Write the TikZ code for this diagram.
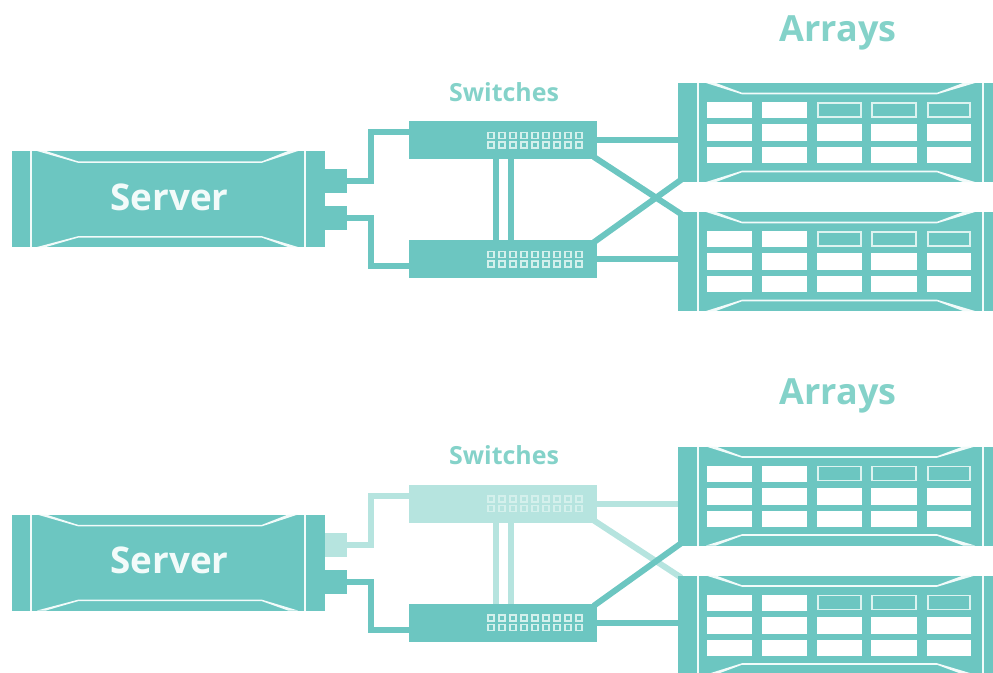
\documentclass[tikz,border=0pt]{standalone}
\usepackage{fontspec}
\setmainfont{Open Sans}
\usetikzlibrary{calc,backgrounds}
\definecolor{tealmain}{HTML}{6CC6C1}
\definecolor{teallight}{HTML}{B6E4DF}
\definecolor{tealtext}{HTML}{84D2C9}
\definecolor{notch}{HTML}{F2FBFA}
\definecolor{portline}{HTML}{D4F0EC}
\definecolor{celledge}{HTML}{DDF3F0}
\tikzset{
  sz/.style 2 args={minimum width=#1*0.75pt,minimum height=#2*0.75pt},
  boxnode/.style={inner sep=0,outer sep=0,anchor=north west,draw=none,fill=#1},
  wire/.style={draw=#1,line width=4.5pt,line join=miter,shorten <=-3pt,shorten >=-3pt},
  hairline/.style={draw=notch,line width=1pt},
  notchfill/.style={fill=notch,draw=none},
  cellfull/.style={fill=white,draw=none},
  celloutline/.style={fill=tealmain,draw=celledge,line width=0.9pt},
  portsq/.style={draw=portline,line width=0.8pt,fill=none},
  titlebig/.style={font=\bfseries\fontsize{27}{30}\selectfont,text=tealtext,inner sep=0},
  titlesmall/.style={font=\bfseries\fontsize{18.7}{20}\selectfont,text=tealtext,inner sep=0},
  servertext/.style={font=\bfseries\fontsize{27.6}{32}\selectfont,text=notch,inner sep=0},
}
% rack: name, top y
\newcommand{\rackunit}[2]{%
  \node[boxnode=tealmain,sz={315}{99}] (#1) at (678,#2) {};
  \begin{scope}[shift={(0,#2)}]
    \draw[hairline] (698,0) -- (698,99);
    \draw[hairline] (983,0) -- (983,99);
    \fill[notchfill] (706,0) -- (716,0) -- (742,9.7) -- (937,9.7) -- (963,0) -- (975,0) -- (937,11.3) -- (742,11.3) -- cycle;
    \fill[notchfill] (706,99) -- (716,99) -- (742,89.3) -- (937,89.3) -- (963,99) -- (975,99) -- (937,87.7) -- (742,87.7) -- cycle;
    \foreach \xa/\xb in {707/752,762/807,817/862,871/917,927/971}{
      \fill[cellfull] (\xa,41) rectangle (\xb,58);
      \fill[cellfull] (\xa,64) rectangle (\xb,80);
    }
    \fill[cellfull] (707,19) rectangle (752,35);
    \fill[cellfull] (762,19) rectangle (807,35);
    \foreach \xa/\xb in {818/861,872/916,928/970}{
      \draw[celloutline] (\xa,20) rectangle (\xb,34);
    }
  \end{scope}
}
% switch: name, top y, colour
\newcommand{\switchunit}[3]{%
  \node[boxnode=#3,sz={188}{38}] (#1) at (409,#2) {};
  \begin{scope}[shift={(0,#2)}]
    \foreach \i in {0,...,8}{
      \pgfmathsetmacro{\px}{488+11*\i}
      \draw[portsq] (\px,11.5) rectangle ++(6,6);
      \draw[portsq] (\px,21) rectangle ++(6,6);
    }
  \end{scope}
}
% complete group: prefix, vertical offset, colour of the upper path
\newcommand{\fabric}[3]{%
  \begin{scope}[shift={(0,#2)}]
    \node[titlebig] (#1arrays) at (838,32.5) {Arrays};
    \node[titlesmall] (#1switches) at (504,92) {Switches};
    % server
    \node[boxnode=tealmain,sz={313}{96}] (#1server) at (12,151) {};
    \draw[hairline] (31,151) -- (31,247);
    \draw[hairline] (305,151) -- (305,247);
    \fill[notchfill] (37,151) -- (46,151) -- (78,161.3) -- (262,161.3) -- (288,151) -- (298,151) -- (262,162.8) -- (78,162.8) -- cycle;
    \fill[notchfill] (37,247) -- (46,247) -- (78,237.7) -- (262,237.7) -- (288,247) -- (298,247) -- (262,236.2) -- (78,236.2) -- cycle;
    \node[servertext] (#1label) at (169.5,197) {Server};
    % server ports
    \node[boxnode=#3,sz={22}{24}] (#1portA) at (325,169) {};
    \node[boxnode=tealmain,sz={22}{24}] (#1portB) at (325,206) {};
    % switches and racks
    \switchunit{#1swA}{121}{#3}
    \switchunit{#1swB}{240}{tealmain}
    \rackunit{#1rackA}{83}
    \rackunit{#1rackB}{212}
    % connectors, beneath the boxes
    \begin{pgfonlayer}{background}
      \draw[wire=#3] (#1portA.east) -- ++(24,0) |- ($(#1swA.west)+(0,-8)$);
      \draw[wire=tealmain] (#1portB.east) -- ++(24,0) |- ($(#1swB.west)+(0,7)$);
      \draw[wire=#3] ($(#1swA.south west)+(87,0)$) -- ($(#1swB.north west)+(87,0)$);
      \draw[wire=#3] ($(#1swA.south west)+(102,0)$) -- ($(#1swB.north west)+(102,0)$);
      \draw[wire=#3] (#1swA.east) -- (#1swA.east -| #1rackA.west);
      \draw[wire=#3] (#1swA.south east) -- (#1rackB.north west);
      \draw[wire=tealmain] (#1swB.north east) -- (#1rackA.south west);
      \draw[wire=tealmain] (#1swB.east) -- (#1swB.east -| #1rackB.west);
    \end{pgfonlayer}
  \end{scope}
}
\begin{document}
\begin{tikzpicture}[x=0.75pt,y=-0.75pt]
  \useasboundingbox (0,0) rectangle (993,672);
  \fabric{t}{0}{tealmain}
  \fabric{b}{363.5}{teallight}
\end{tikzpicture}
\end{document}
